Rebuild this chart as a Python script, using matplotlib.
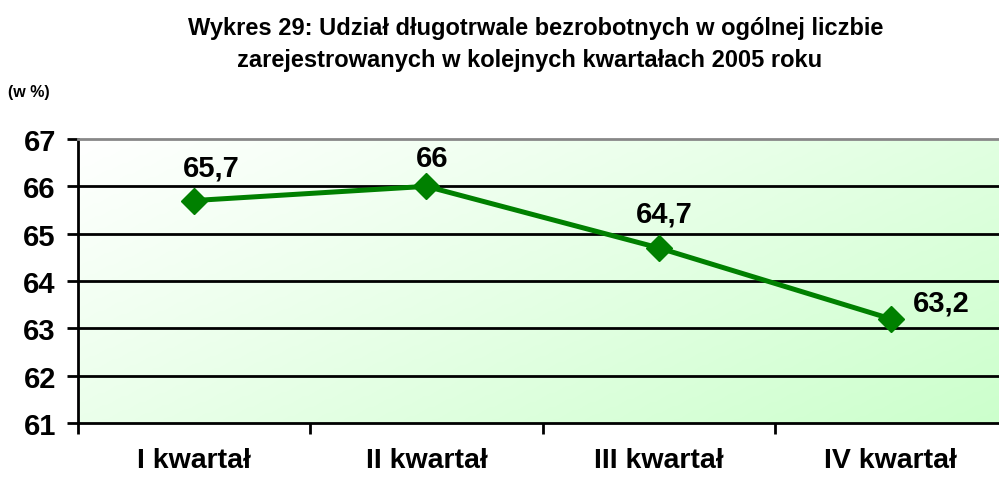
import matplotlib.pyplot as plt
import numpy as np
from matplotlib.colors import LinearSegmentedColormap

plt.rcParams['font.family'] = ['Liberation Sans', 'DejaVu Sans']

kwartaly = ['I kwartał', 'II kwartał', 'III kwartał', 'IV kwartał']
udzial = [65.7, 66.0, 64.7, 63.2]
etykiety = ['65,7', '66', '64,7', '63,2']

fig = plt.figure(figsize=(9.99, 4.81), dpi=100)
ax = fig.add_axes([78 / 999, 57 / 481, 929 / 999, 284 / 481])

# tło z gradientem: biały w lewym górnym rogu -> jasnozielony w prawym dolnym
cmap = LinearSegmentedColormap.from_list('g', ['#ffffff', '#ccffcc'])
gx, gy = np.meshgrid(np.linspace(0, 1, 200), np.linspace(0, 1, 100))
grad = (gx * 0.6 + gy * 0.4)
ax.imshow(grad, cmap=cmap, extent=[0, 1, 0, 1], transform=ax.transAxes,
          aspect='auto', origin='upper', zorder=0)

x = np.arange(len(kwartaly))
ax.plot(x, udzial, color='#008000', lw=3.6, marker='D', ms=13, zorder=3)

offsets = [(12, 14), (4, 10), (4, 15), (36, 2)]
for xi, yi, lab, off in zip(x, udzial, etykiety, offsets):
    ax.annotate(lab, (xi, yi), xytext=off, textcoords='offset points',
                ha='center', va='bottom', fontsize=21, fontweight='bold')

ax.set_xlim(-0.5, 3.5)
ax.set_ylim(61, 67)
ax.set_yticks(range(61, 68))
ax.set_xticks(np.arange(-0.5, 4, 1))
ax.set_xticklabels([])
ax.set_xticks(x, minor=True)
ax.set_xticklabels(kwartaly, minor=True, fontsize=20.5, fontweight='bold')
ax.tick_params(axis='x', which='minor', length=0, pad=17)
ax.tick_params(axis='x', which='major', length=8, width=2, direction='out')
ax.tick_params(axis='y', length=8, width=2, direction='out', labelsize=21, pad=8)
for t in ax.get_yticklabels():
    t.set_fontweight('bold')

for v in range(62, 67):
    ax.axhline(v, color='black', lw=2, zorder=1)

for s in ['left', 'bottom']:
    ax.spines[s].set_linewidth(2)
ax.spines['top'].set_color('#888888')
ax.spines['top'].set_linewidth(2)
ax.spines['right'].set_visible(False)

fig.text(536 / 999, 1 - 29 / 481,
         'Wykres 29: Udział długotrwale bezrobotnych w ogólnej liczbie',
         ha='center', va='center', fontsize=17, fontweight='bold')
fig.text(530 / 999, 1 - 61 / 481,
         'zarejestrowanych w kolejnych kwartałach 2005 roku',
         ha='center', va='center', fontsize=17, fontweight='bold')
fig.text(8 / 999, 1 - 92 / 481, '(w %)', ha='left', va='center',
         fontsize=11.5, fontweight='bold')

fig.savefig('out.png', dpi=100)
